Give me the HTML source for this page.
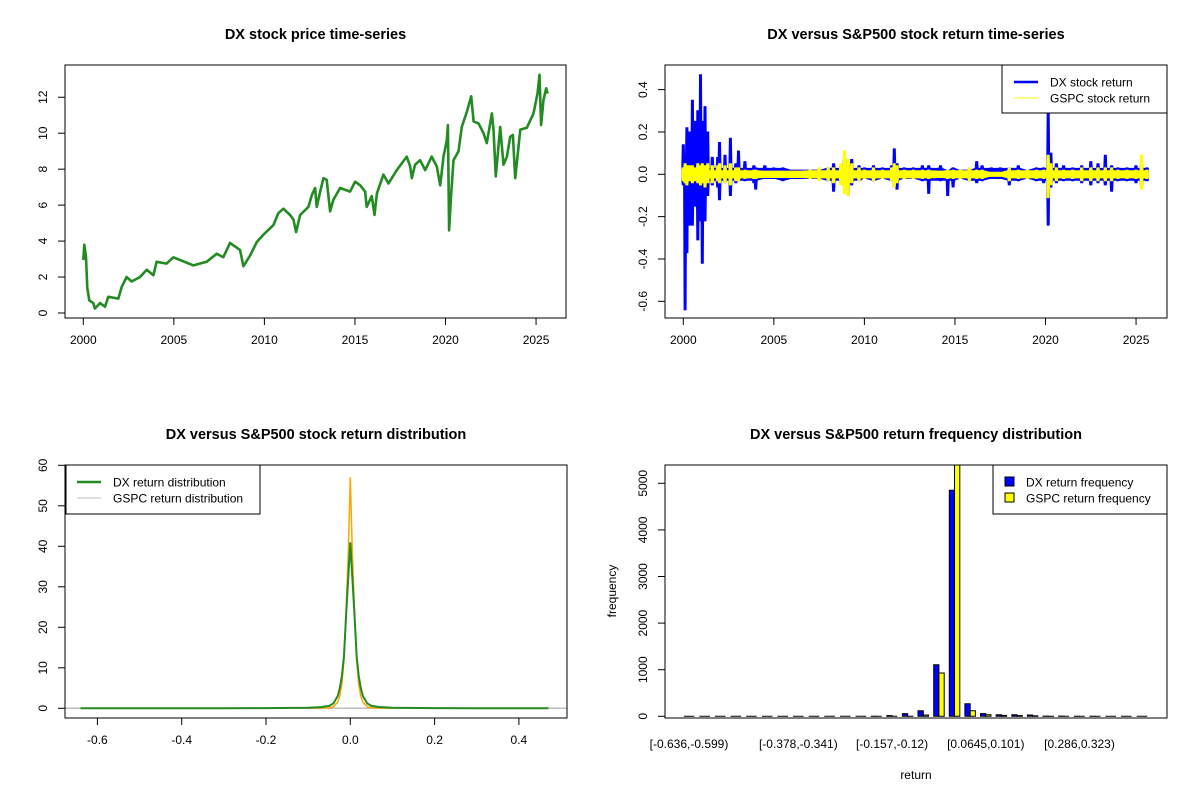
<!DOCTYPE html>
<html><head><meta charset="utf-8"><style>
html,body{margin:0;padding:0;background:#fff;}
svg{display:block;font-family:"Liberation Sans",Arial,sans-serif;}
</style></head><body>
<svg id="c" width="1200" height="800" viewBox="0 0 1200 800"></svg>
<script>
// ---------- DATA ----------
const priceYears=[0,0.055,0.15,0.22,0.33,0.55,0.64,0.92,1.2,1.38,1.93,2.12,2.39,2.67,3.13,3.5,3.87,4.05,4.6,4.97,5.34,6.08,6.81,7.37,7.73,8.1,8.66,8.84,9.21,9.58,9.94,10.5,10.77,11.05,11.42,11.6,11.75,11.97,12.43,12.62,12.8,12.89,13.08,13.26,13.44,13.63,13.81,14.18,14.73,15.01,15.29,15.56,15.65,15.93,16.08,16.21,16.57,16.85,17.31,17.86,18.05,18.14,18.32,18.6,18.88,19.24,19.52,19.71,19.89,20.07,20.13,20.2,20.29,20.44,20.72,20.9,21.18,21.42,21.55,21.82,22.1,22.28,22.56,22.65,22.78,23.02,23.2,23.39,23.57,23.72,23.85,24.13,24.49,24.86,25.08,25.19,25.28,25.41,25.56,25.64];
const priceValues=[2.95,3.8,3.1,1.4,0.7,0.55,0.25,0.55,0.35,0.9,0.8,1.45,2.0,1.75,2.0,2.4,2.1,2.85,2.75,3.1,2.95,2.65,2.85,3.3,3.1,3.9,3.5,2.6,3.2,3.95,4.35,4.9,5.55,5.8,5.45,5.2,4.5,5.45,5.9,6.55,6.95,5.9,6.75,7.5,7.4,5.65,6.3,6.95,6.75,7.3,7.1,6.75,5.9,6.5,5.45,6.65,7.7,7.2,7.95,8.7,8.15,7.5,8.25,8.5,7.95,8.7,8.15,7.1,8.7,9.6,10.45,4.6,6.3,8.5,9.0,10.35,11.2,12.05,10.65,10.55,10.0,9.45,11.1,10.2,7.6,10.35,8.25,8.7,9.8,9.9,7.5,10.2,10.3,11.1,12.2,13.25,10.45,11.85,12.5,12.2];
const priceXTicks=[2000,2005,2010,2015,2020,2025];
const priceYTicks=[0,2,4,6,8,10,12];

const retYears=[2000.0,2000.1,2000.2,2000.35,2000.5,2000.65,2000.8,2000.95,2001.05,2001.2,2001.35,2001.6,2001.9,2002.0,2002.3,2002.6,2002.9,2003.05,2003.4,2003.9,2004.0,2004.5,2005.0,2005.5,2006.0,2006.5,2007.0,2007.5,2008.0,2008.3,2008.7,2008.9,2009.1,2009.3,2009.7,2010.0,2010.5,2011.0,2011.5,2011.65,2011.8,2012.2,2012.7,2013.2,2013.55,2014.2,2014.6,2014.9,2015.3,2015.8,2016.2,2016.5,2017.0,2017.5,2018.0,2018.5,2019.0,2019.5,2019.9,2020.15,2020.3,2020.6,2021.0,2021.5,2022.0,2022.5,2022.9,2023.3,2023.65,2024.0,2024.5,2025.0,2025.3,2025.6];
const dxHigh=[.14,.06,.22,.20,.35,.25,.30,.47,.25,.32,.20,.08,.08,.15,.09,.17,.05,.11,.06,.04,.03,.04,.03,.03,.02,.02,.02,.02,.03,.05,.04,.09,.05,.07,.04,.03,.04,.03,.04,.12,.05,.03,.03,.04,.04,.04,.02,.03,.02,.02,.06,.04,.03,.03,.03,.04,.02,.03,.03,.30,.10,.05,.04,.03,.04,.06,.05,.09,.04,.03,.03,.04,.05,.03];
const dxLow=[-.05,-.64,-.37,-.24,-.24,-.15,-.31,-.22,-.42,-.22,-.10,-.05,-.06,-.12,-.04,-.10,-.04,-.03,-.03,-.04,-.07,-.02,-.02,-.03,-.02,-.02,-.02,-.02,-.03,-.08,-.04,-.06,-.10,-.05,-.03,-.02,-.03,-.02,-.03,-.06,-.07,-.02,-.02,-.03,-.09,-.03,-.10,-.06,-.02,-.03,-.04,-.03,-.02,-.02,-.05,-.03,-.02,-.03,-.04,-.24,-.06,-.04,-.03,-.03,-.04,-.05,-.04,-.05,-.08,-.03,-.03,-.04,-.06,-.03];
const spHigh=[.03,.05,.04,.04,.04,.03,.05,.04,.05,.04,.05,.04,.04,.05,.04,.05,.03,.03,.02,.02,.02,.015,.015,.015,.015,.015,.02,.03,.03,.03,.05,.11,.07,.05,.03,.02,.03,.02,.03,.05,.04,.02,.02,.02,.02,.015,.02,.02,.02,.03,.02,.02,.01,.01,.03,.02,.02,.02,.02,.09,.05,.03,.02,.02,.03,.03,.03,.03,.03,.02,.02,.02,.09,.02];
const spLow=[-.03,-.04,-.05,-.03,-.04,-.03,-.04,-.05,-.04,-.06,-.04,-.04,-.03,-.04,-.04,-.05,-.03,-.03,-.02,-.02,-.02,-.015,-.015,-.015,-.015,-.015,-.02,-.03,-.03,-.04,-.05,-.09,-.10,-.04,-.03,-.02,-.03,-.02,-.03,-.06,-.04,-.02,-.02,-.02,-.02,-.015,-.02,-.02,-.02,-.03,-.02,-.02,-.01,-.01,-.03,-.02,-.02,-.02,-.02,-.11,-.05,-.03,-.02,-.02,-.03,-.03,-.03,-.03,-.03,-.02,-.02,-.02,-.07,-.02];
const retYTicks=[-0.6,-0.4,-0.2,0.0,0.2,0.4];

const dxDensX=[-0.64,-0.3,-0.2,-0.1,-0.07,-0.05,-0.04,-0.03,-0.025,-0.02,-0.015,-0.01,-0.005,0,0.005,0.01,0.015,0.02,0.025,0.03,0.04,0.05,0.07,0.1,0.2,0.3,0.47];
const dxDens=[0,0.03,0.05,0.15,0.3,0.6,1.2,3,5,8,13,23,32,41,32,23,13,8,5,3,1.2,0.6,0.3,0.15,0.05,0.03,0];
const spDensX=[-0.1,-0.05,-0.04,-0.03,-0.025,-0.02,-0.015,-0.01,-0.005,-0.003,0,0.003,0.005,0.01,0.015,0.02,0.025,0.03,0.04,0.05,0.1];
const spDens=[0,0.1,0.4,1.5,3,6,12,24,38,45,57,45,38,24,12,6,3,1.5,0.4,0.1,0];
const densXTicks=[-0.6,-0.4,-0.2,0.0,0.2,0.4];
const densYTicks=[0,10,20,30,40,50,60];

const histLabels=["[-0.636,-0.599)","[-0.378,-0.341)","[-0.157,-0.12)","[0.0645,0.101)","[0.286,0.323)"];
const histLabelBins=[0,7,13,19,25];
const dxFreq=[0,0,0,0,0,0,0,0,0,0,0,0,3,15,57,121,1106,4850,271,57,35,35,28,5,5,3,2,1,1,1];
const spFreq=[0,0,0,0,0,0,0,0,0,0,0,0,0,0,3,28,930,5600,121,35,20,15,10,2,1,0,0,0,0,0];
const histYTicks=[0,1000,2000,3000,4000,5000];

// ---------- HELPERS ----------
const NS="http://www.w3.org/2000/svg";
const svg=document.getElementById('c');
function el(tag,attrs,parent,text){const e=document.createElementNS(NS,tag);for(const k in attrs)e.setAttribute(k,attrs[k]);if(text!==undefined)e.textContent=text;(parent||svg).appendChild(e);return e;}
function fmt(v,d){return v.toFixed(d);}

function panel(name,L,T,R,B,title){
  const g=el('g',{});
  
  
  const t=el('text',{x:(L+R)/2,y:T-26,'text-anchor':'middle','font-size':'14.5','font-weight':'bold'},g,title);
  
  
  return g;
}
function box(g,L,T,R,B,name){
  const r=el('rect',{x:L,y:T,width:R-L,height:B-T,fill:'none',stroke:'#000','stroke-width':1},g);
  
  
}
function yAxis(g,L,ticks,ys,dec,name){
  const a=el('g',{},g);
  
  
  el('line',{x1:L,x2:L,y1:ys(ticks[0]),y2:ys(ticks[ticks.length-1]),stroke:'#000'},a);
  ticks.forEach(v=>{const y=ys(v);
    el('line',{x1:L-7,x2:L,y1:y,y2:y,stroke:'#000'},a);
    const tx=L-18;
    const t=el('text',{x:tx,y:y,'text-anchor':'middle','font-size':'12',transform:`rotate(-90 ${tx} ${y})`},a,dec<0?String(v):fmt(v,dec));
    
    
  });
}
function xAxis(g,B,ticks,xs,dec,name){
  const a=el('g',{},g);
  
  
  el('line',{x1:xs(ticks[0]),x2:xs(ticks[ticks.length-1]),y1:B,y2:B,stroke:'#000'},a);
  ticks.forEach(v=>{const x=xs(v);
    el('line',{x1:x,x2:x,y1:B,y2:B+7,stroke:'#000'},a);
    const t=el('text',{x:x,y:B+26,'text-anchor':'middle','font-size':'12'},a,dec<0?String(v):fmt(v,dec));
    
    
  });
}
function clip(id,L,T,R,B){const d=el('defs',{});const c=el('clipPath',{id:id},d);el('rect',{x:L,y:T,width:R-L,height:B-T},c);}

// ---------- PANEL 1 ----------
{
  const L=65,T=65,R=566,B=318;
  const xs=y=>83.3+(y-2000)*18.11, ys=v=>313-v*17.98;
  const g=panel('price-panel',L,T,R,B,'DX stock price time-series');
  clip('c1',L,T,R,B);
  const pts=priceYears.map((y,i)=>xs(2000+y).toFixed(1)+','+ys(priceValues[i]).toFixed(1)).join(' ');
  const p=el('polyline',{points:pts,fill:'none',stroke:'#228B22','stroke-width':2.6,'stroke-linejoin':'round','clip-path':'url(#c1)'},g);
  
  
  box(g,L,T,R,B,'price-plot-box');
  yAxis(g,L,priceYTicks,ys,-1,'price-y-axis');
  xAxis(g,B,priceXTicks,xs,-1,'price-x-axis');
}

// ---------- PANEL 2 ----------
function bandPath(xs,ys,years,hi,lo,core){
  let up=[],dn=[];
  years.forEach((yr,i)=>{const x=xs(yr);
    const ch=Math.min(core,hi[i]), cl=Math.max(-core,lo[i]);
    up.push([x-1.5,ys(ch)],[x-1,ys(hi[i])],[x+1,ys(hi[i])],[x+1.5,ys(ch)]);
    dn.push([x-1.5,ys(cl)],[x-1,ys(lo[i])],[x+1,ys(lo[i])],[x+1.5,ys(cl)]);
  });
  dn.reverse();
  return 'M'+up.concat(dn).map(p=>p[0].toFixed(1)+','+p[1].toFixed(1)).join(' L')+' Z';
}
{
  const L=665,T=65,R=1167,B=318;
  const xs=y=>683.3+(y-2000)*18.11, ys=v=>174.3-v*211.7;
  const g=panel('returns-panel',L,T,R,B,'DX versus S&P500 stock return time-series');
  clip('c2',L,T,R,B);
  const d1=el('path',{d:bandPath(xs,ys,retYears,dxHigh,dxLow,0.028),fill:'#0000FF',stroke:'#0000FF','stroke-width':1,'clip-path':'url(#c2)'},g);
  
  
  const d2=el('path',{d:bandPath(xs,ys,retYears,spHigh,spLow,0.017),fill:'#FFFF00',stroke:'#FFFF00','stroke-width':1,'clip-path':'url(#c2)'},g);
  
  
  box(g,L,T,R,B,'returns-plot-box');
  yAxis(g,L,retYTicks,ys,1,'returns-y-axis');
  xAxis(g,B,priceXTicks,xs,-1,'returns-x-axis');
  const lg=el('g',{},g);
  
  
  el('rect',{x:1002,y:65,width:165,height:48,fill:'#fff',stroke:'#000'},lg);
  el('line',{x1:1014,x2:1038,y1:82,y2:82,stroke:'#0000FF','stroke-width':2.5},lg);
  el('line',{x1:1014,x2:1038,y1:98,y2:98,stroke:'#FFFF00','stroke-width':1},lg);
  el('text',{x:1050,y:86.5,'font-size':'12'},lg,'DX stock return');
  el('text',{x:1050,y:102.5,'font-size':'12'},lg,'GSPC stock return');
}

// ---------- PANEL 3 ----------
{
  const L=65,T=465,R=567,B=718;
  const xs=v=>350.3+v*421.5, ys=v=>708.3-v*4.05;
  const g=panel('density-panel',L,T,R,B,'DX versus S&P500 stock return distribution');
  clip('c3',L,T,R,B);
  const gl=el('line',{x1:L,x2:R,y1:ys(0),y2:ys(0),stroke:'#BEBEBE','stroke-width':1.5},g);
  
  
  const o=el('polyline',{points:spDensX.map((x,i)=>xs(x).toFixed(1)+','+ys(spDens[i]).toFixed(1)).join(' '),fill:'none',stroke:'#FFA500','stroke-width':1.5,'clip-path':'url(#c3)'},g);
  
  
  const gr=el('polyline',{points:dxDensX.map((x,i)=>xs(x).toFixed(1)+','+ys(dxDens[i]).toFixed(1)).join(' '),fill:'none',stroke:'#228B22','stroke-width':2,'clip-path':'url(#c3)'},g);
  
  
  box(g,L,T,R,B,'density-plot-box');
  yAxis(g,L,densYTicks,ys,-1,'density-y-axis');
  xAxis(g,B,densXTicks,xs,1,'density-x-axis');
  const lg=el('g',{},g);
  
  
  el('rect',{x:66,y:465,width:194,height:49,fill:'#fff',stroke:'#000'},lg);
  el('line',{x1:77,x2:101,y1:482,y2:482,stroke:'#228B22','stroke-width':2.5},lg);
  el('line',{x1:77,x2:101,y1:498,y2:498,stroke:'#BEBEBE','stroke-width':1},lg);
  el('text',{x:113,y:486.5,'font-size':'12'},lg,'DX return distribution');
  el('text',{x:113,y:502.5,'font-size':'12'},lg,'GSPC return distribution');
}

// ---------- PANEL 4 ----------
{
  const L=665,T=465,R=1167,B=718;
  const bc=k=>689+k*15.62, ys=v=>716.3-v*0.0466, bw=5.25;
  const g=panel('histogram-panel',L,T,R,B,'DX versus S&P500 return frequency distribution');
  clip('c4',L,T,R,B);
  const bars=el('g',{'clip-path':'url(#c4)'},g);
  
  
  dxFreq.forEach((v,k)=>{
    const x=bc(k);
    const b1=el('path',{d:`M${(x-bw).toFixed(1)},${ys(0)} V${ys(v).toFixed(1)} H${x.toFixed(1)} V${ys(0)} Z`,fill:'#0000FF',stroke:'#000','stroke-width':1},bars);
    
    
    const b2=el('path',{d:`M${x.toFixed(1)},${ys(0)} V${ys(spFreq[k]).toFixed(1)} H${(x+bw).toFixed(1)} V${ys(0)} Z`,fill:'#FFFF00',stroke:'#000','stroke-width':1},bars);
    
    
  });
  box(g,L,T,R,B,'histogram-plot-box');
  yAxis(g,L,histYTicks,ys,-1,'histogram-y-axis');
  histLabels.forEach((s,i)=>{
    const t=el('text',{x:bc(histLabelBins[i]),y:748,'text-anchor':'middle','font-size':'12'},g,s);
    
    
  });
  const xt=el('text',{x:916,y:779,'text-anchor':'middle','font-size':'12'},g,'return');
  
  
  const yt=el('text',{x:616,y:591,'text-anchor':'middle','font-size':'12',transform:'rotate(-90 616 591)'},g,'frequency');
  
  
  const lg=el('g',{},g);
  
  
  el('rect',{x:993,y:465,width:174,height:49,fill:'#fff',stroke:'#000'},lg);
  el('rect',{x:1005,y:477,width:9,height:9,fill:'#0000FF',stroke:'#000'},lg);
  el('rect',{x:1005,y:493,width:9,height:9,fill:'#FFFF00',stroke:'#000'},lg);
  el('text',{x:1026,y:486.5,'font-size':'12'},lg,'DX return frequency');
  el('text',{x:1026,y:502.5,'font-size':'12'},lg,'GSPC return frequency');
}
</script>
</body></html>
